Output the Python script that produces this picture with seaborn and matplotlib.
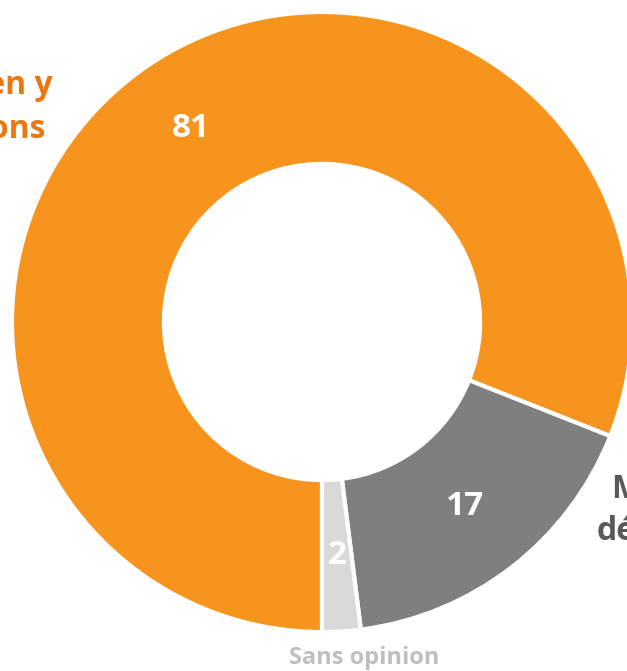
import matplotlib
matplotlib.use('Agg')
import matplotlib.pyplot as plt
import seaborn as sns

# donnees du graphique
categories = ['Bien y allons', 'Moins détendus', 'Sans opinion']
values = [81, 17, 2]
colors = ['#F7941D', '#7F7F7F', '#D9D9D9']

sns.set_theme(style='white')
plt.rcParams['font.family'] = ['Open Sans', 'DejaVu Sans']

W, H = 627, 671
fig = plt.figure(figsize=(W / 100, H / 100), dpi=100)
ax = fig.add_axes([0, 0, 1, 1])

wedges, texts, autotexts = ax.pie(
    values,
    colors=colors,
    startangle=-90,
    counterclock=False,
    radius=1.0,
    autopct=lambda p: '{:.0f}'.format(p),
    pctdistance=0.755,
    wedgeprops={'width': 0.49, 'edgecolor': 'white', 'linewidth': 3},
    textprops={'color': 'white', 'fontsize': 24, 'fontweight': 'bold'},
)

# echelle : 310 px par unite, centre a (322, 322) px
r_px, cx, cy = 310, 322, 322
ax.set_xlim(-cx / r_px, (W - cx) / r_px)
ax.set_ylim(-(H - cy) / r_px, cy / r_px)
ax.set_aspect('auto')
ax.axis('off')

def px(x, y):
    return (x - cx) / r_px, (cy - y) / r_px

# etiquettes exterieures (coupees par le bord comme dans l'original)
lab = {'fontsize': 23, 'fontweight': 'bold', 'va': 'center'}
x, y = px(53, 86)
ax.text(x, y, 'Bien y', ha='right', color='#E8780F', **lab)
x, y = px(46, 130)
ax.text(x, y, 'allons', ha='right', color='#E8780F', **lab)
x, y = px(611, 490)
ax.text(x, y, 'Moins', ha='left', color='#595959', **lab)
x, y = px(597, 531)
ax.text(x, y, 'détendus', ha='left', color='#595959', **lab)
x, y = px(364, 658)
ax.text(x, y, 'Sans opinion', ha='center', va='center', color='#BFBFBF', fontsize=17, fontweight='bold')

fig.savefig('out.png', dpi=100)
